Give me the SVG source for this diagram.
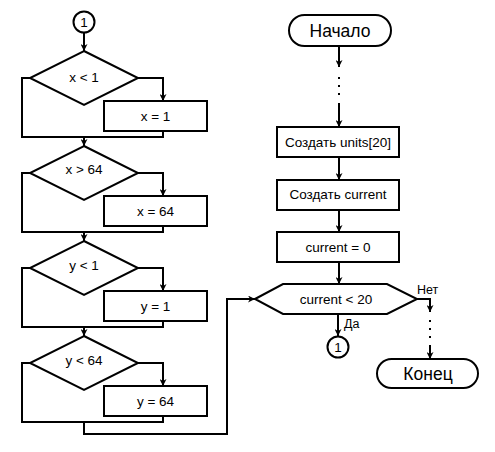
<svg xmlns="http://www.w3.org/2000/svg" width="495" height="452" viewBox="0 0 495 452">
<style>
.s{fill:#fff;stroke:#000;stroke-width:2}
.c{fill:none;stroke:#000;stroke-width:2}
.t{font-family:"Liberation Sans",Arial,sans-serif;font-size:13.5px;fill:#000;text-anchor:middle}
.b{font-size:17.5px}
.l{font-family:"Liberation Sans",Arial,sans-serif;font-size:12.5px;fill:#000}
</style>
<defs>
<marker id="a" viewBox="0 0 10 10" refX="10" refY="5" markerWidth="7" markerHeight="7" markerUnits="userSpaceOnUse" orient="auto">
<path d="M0,0 L10,5 L0,10 L3,5 z" fill="#000"/>
</marker>
</defs>
<rect width="495" height="452" fill="#fff"/>
<g id="connectors">
<path class="c" d="M84,32.5 V51" marker-end="url(#a)"/>
<path class="c" d="M138,78 H163 V101" marker-end="url(#a)"/>
<path class="c" d="M30,78 H22 V137 H163 V131"/>
<path class="c" d="M84,137 V146" marker-end="url(#a)"/>
<path class="c" d="M138,173 H163 V196" marker-end="url(#a)"/>
<path class="c" d="M30,173 H22 V232 H163 V226"/>
<path class="c" d="M84,232 V241" marker-end="url(#a)"/>
<path class="c" d="M138,268 H163 V291" marker-end="url(#a)"/>
<path class="c" d="M30,268 H22 V327 H163 V321"/>
<path class="c" d="M84,327 V336" marker-end="url(#a)"/>
<path class="c" d="M138,363 H163 V386" marker-end="url(#a)"/>
<path class="c" d="M30,363 H22 V422 H163 V416"/>
<path class="c" d="M84,422 V434 H227 V299 H255" marker-end="url(#a)"/>
<path class="c" d="M339,46 V67" marker-end="url(#a)"/>
<path class="c" d="M339,77 V79 M339,85 V87 M339,93 V95"/>
<path class="c" d="M339,103 V127" marker-end="url(#a)"/>
<path class="c" d="M339,157 V180" marker-end="url(#a)"/>
<path class="c" d="M339,210 V232" marker-end="url(#a)"/>
<path class="c" d="M339,262 V284" marker-end="url(#a)"/>
<path class="c" d="M338,314 V336" marker-end="url(#a)"/>
<path class="c" d="M417,299 H430 V312" marker-end="url(#a)"/>
<path class="c" d="M430,320 V322 M430,328 V330 M430,336 V338"/>
<path class="c" d="M430,345 V359" marker-end="url(#a)"/>
<text class="l" x="344" y="328">Да</text>
<text class="l" x="417" y="294">Нет</text>
</g>
<g id="conn1">
<circle class="s" cx="84" cy="22" r="10.5"/>
<text class="t" x="84" y="27">1</text>
</g>
<g id="d1">
<polygon class="s" points="84,51 138,78 84,105 30,78"/>
<text class="t" x="84" y="82">x &lt; 1</text>
</g>
<g id="b1">
<rect class="s" x="104" y="101" width="103" height="30"/>
<text class="t" x="155.5" y="121">x = 1</text>
</g>
<g id="d2">
<polygon class="s" points="84,146 138,173 84,200 30,173"/>
<text class="t" x="84" y="174">x &gt; 64</text>
</g>
<g id="b2">
<rect class="s" x="104" y="196" width="103" height="30"/>
<text class="t" x="155.5" y="216">x = 64</text>
</g>
<g id="d3">
<polygon class="s" points="84,241 138,268 84,295 30,268"/>
<text class="t" x="84" y="270">y &lt; 1</text>
</g>
<g id="b3">
<rect class="s" x="104" y="291" width="103" height="30"/>
<text class="t" x="155.5" y="311">y = 1</text>
</g>
<g id="d4">
<polygon class="s" points="84,336 138,363 84,390 30,363"/>
<text class="t" x="84" y="365">y &lt; 64</text>
</g>
<g id="b4">
<rect class="s" x="104" y="386" width="103" height="30"/>
<text class="t" x="155.5" y="406">y = 64</text>
</g>
<g id="start">
<rect class="s" x="289" y="15" width="102" height="31" rx="15.5"/>
<text class="t b" x="340" y="36.5">Начало</text>
</g>
<g id="units">
<rect class="s" x="277" y="127" width="122" height="30"/>
<text class="t" x="338" y="147">Создать units[20]</text>
</g>
<g id="createcur">
<rect class="s" x="277" y="180" width="122" height="30"/>
<text class="t" x="338" y="199">Создать current</text>
</g>
<g id="curzero">
<rect class="s" x="277" y="232" width="122" height="30"/>
<text class="t" x="338" y="252">current = 0</text>
</g>
<g id="cond">
<polygon class="s" points="255,299 283,284 387,284 417,299 387,314 283,314"/>
<text class="t" x="336" y="304">current &lt; 20</text>
</g>
<g id="conn2">
<circle class="s" cx="338" cy="347" r="10.5"/>
<text class="t" x="338" y="352">1</text>
</g>
<g id="end">
<rect class="s" x="377" y="359" width="101" height="29" rx="14.5"/>
<text class="t b" x="428" y="380">Конец</text>
</g>
</svg>
